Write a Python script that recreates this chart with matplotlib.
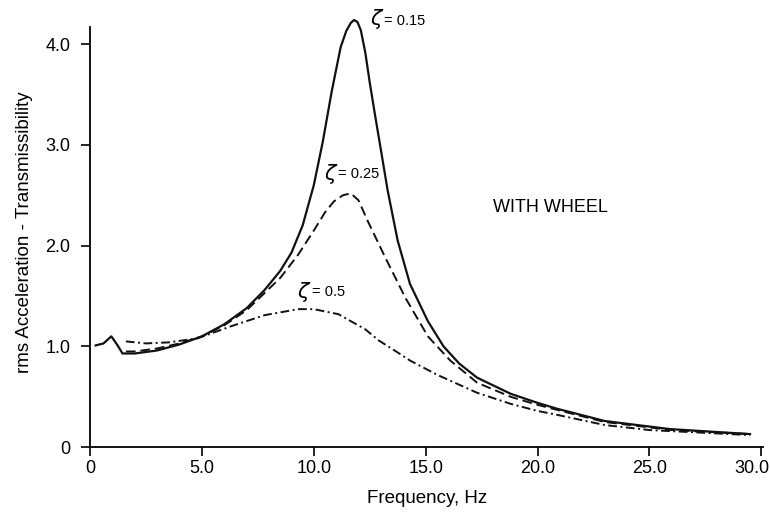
import matplotlib.pyplot as plt
import matplotlib.transforms as mtransforms

plt.rcParams['font.family'] = ['Liberation Sans', 'DejaVu Sans']

# values (frequency in Hz, transmissibility)
freq_015 = [0.25, 0.6, 0.95, 1.2, 1.45, 2.0, 3.0, 4.0, 5.0, 6.0, 7.0, 7.8, 8.5, 9.0,
            9.5, 10.0, 10.4, 10.8, 11.2, 11.45, 11.65, 11.8, 11.95, 12.1, 12.3, 12.5,
            12.75, 13.0, 13.3, 13.75, 14.3, 15.1, 15.8, 16.5, 17.3, 18.8, 20.0, 20.9,
            23.0, 25.9, 29.5]
trans_015 = [1.01, 1.03, 1.10, 1.02, 0.93, 0.93, 0.96, 1.02, 1.10, 1.22, 1.38, 1.56, 1.75, 1.93,
             2.20, 2.60, 3.03, 3.53, 3.97, 4.13, 4.21, 4.24, 4.22, 4.14, 3.92, 3.62,
             3.28, 2.95, 2.55, 2.05, 1.62, 1.25, 1.0, 0.83, 0.69, 0.53, 0.44, 0.38,
             0.26, 0.18, 0.13]

freq_025 = [1.6, 2.0, 3.0, 4.0, 5.0, 6.0, 7.0, 7.8, 8.5, 9.3, 10.0, 10.5, 10.9, 11.3,
            11.65, 12.0, 12.4, 13.2, 14.1, 15.1, 16.1, 17.3, 18.8, 20.0, 23.0, 26.0, 29.5]
trans_025 = [0.95, 0.95, 0.98, 1.03, 1.10, 1.21, 1.36, 1.53, 1.68, 1.91, 2.15, 2.33, 2.44, 2.50,
             2.52, 2.45, 2.25, 1.88, 1.48, 1.10, 0.86, 0.64, 0.50, 0.42, 0.25, 0.17, 0.13]

freq_05 = [1.6, 2.5, 3.5, 4.8, 6.3, 7.8, 9.3, 10.0, 11.1, 12.3, 12.9, 13.75, 14.3,
           15.5, 17.3, 18.8, 20.0, 20.9, 23.0, 25.0, 29.5]
trans_05 = [1.05, 1.03, 1.04, 1.08, 1.20, 1.31, 1.37, 1.37, 1.32, 1.17, 1.06, 0.94, 0.86,
            0.72, 0.54, 0.43, 0.36, 0.32, 0.22, 0.17, 0.12]

xticks = [0, 5, 10, 15, 20, 25, 30]
xtick_labels = ['0', '5.0', '10.0', '15.0', '20.0', '25.0', '30.0']
yticks = [0, 1, 2, 3, 4]
ytick_labels = ['0', '1.0', '2.0', '3.0', '4.0']

fig = plt.figure(figsize=(7.7, 5.14), dpi=100)
ax = fig.add_axes([0.1170, 0.130, 0.8745, 0.837])

ax.plot(freq_015, trans_015, color='#111111', lw=1.6)
ax.plot(freq_025, trans_025, color='#111111', lw=1.4, dashes=(5, 2.5))
ax.plot(freq_05, trans_05, color='#111111', lw=1.4, dashes=(4.5, 1.8, 1, 1.8))

ax.set_xlim(0, 30.1)
ax.set_ylim(0, 4.27)
ax.spines['top'].set_visible(False)
ax.spines['right'].set_visible(False)
ax.spines['left'].set_bounds(0, 4.17)
ax.spines['left'].set_linewidth(1.3)
ax.spines['bottom'].set_linewidth(1.3)

ax.set_xticks(xticks)
ax.set_xticklabels(xtick_labels)
ax.set_yticks(yticks)
ax.set_yticklabels(ytick_labels)
ax.tick_params(direction='out', length=6.3, width=1.2, labelsize=13)
ax.tick_params(axis='x', pad=3)
ax.tick_params(axis='y', pad=8)

# the last x label sits a little left of its tick, as in the reference
last = ax.get_xticklabels()[-1]
last.set_transform(last.get_transform()
                   + mtransforms.ScaledTranslation(-9 / 100, 0, fig.dpi_scale_trans))

ax.set_xlabel('Frequency, Hz', fontsize=13.5, labelpad=9)
ax.set_ylabel('rms Acceleration - Transmissibility', fontsize=13.5, labelpad=9)

# curve labels
ax.text(12.5, 4.25, r'$\zeta$', fontsize=15, va='center', ha='left')
ax.text(13.15, 4.23, '= 0.15', fontsize=10.5, va='center', ha='left')
ax.text(10.45, 2.71, r'$\zeta$', fontsize=15, va='center', ha='left')
ax.text(11.1, 2.71, '= 0.25', fontsize=10.5, va='center', ha='left')
ax.text(9.25, 1.54, r'$\zeta$', fontsize=15, va='center', ha='left')
ax.text(9.9, 1.54, '= 0.5', fontsize=10.5, va='center', ha='left')

ax.text(20.6, 2.38, 'WITH WHEEL', fontsize=13, va='center', ha='center')

fig.savefig('out.png', dpi=100)
